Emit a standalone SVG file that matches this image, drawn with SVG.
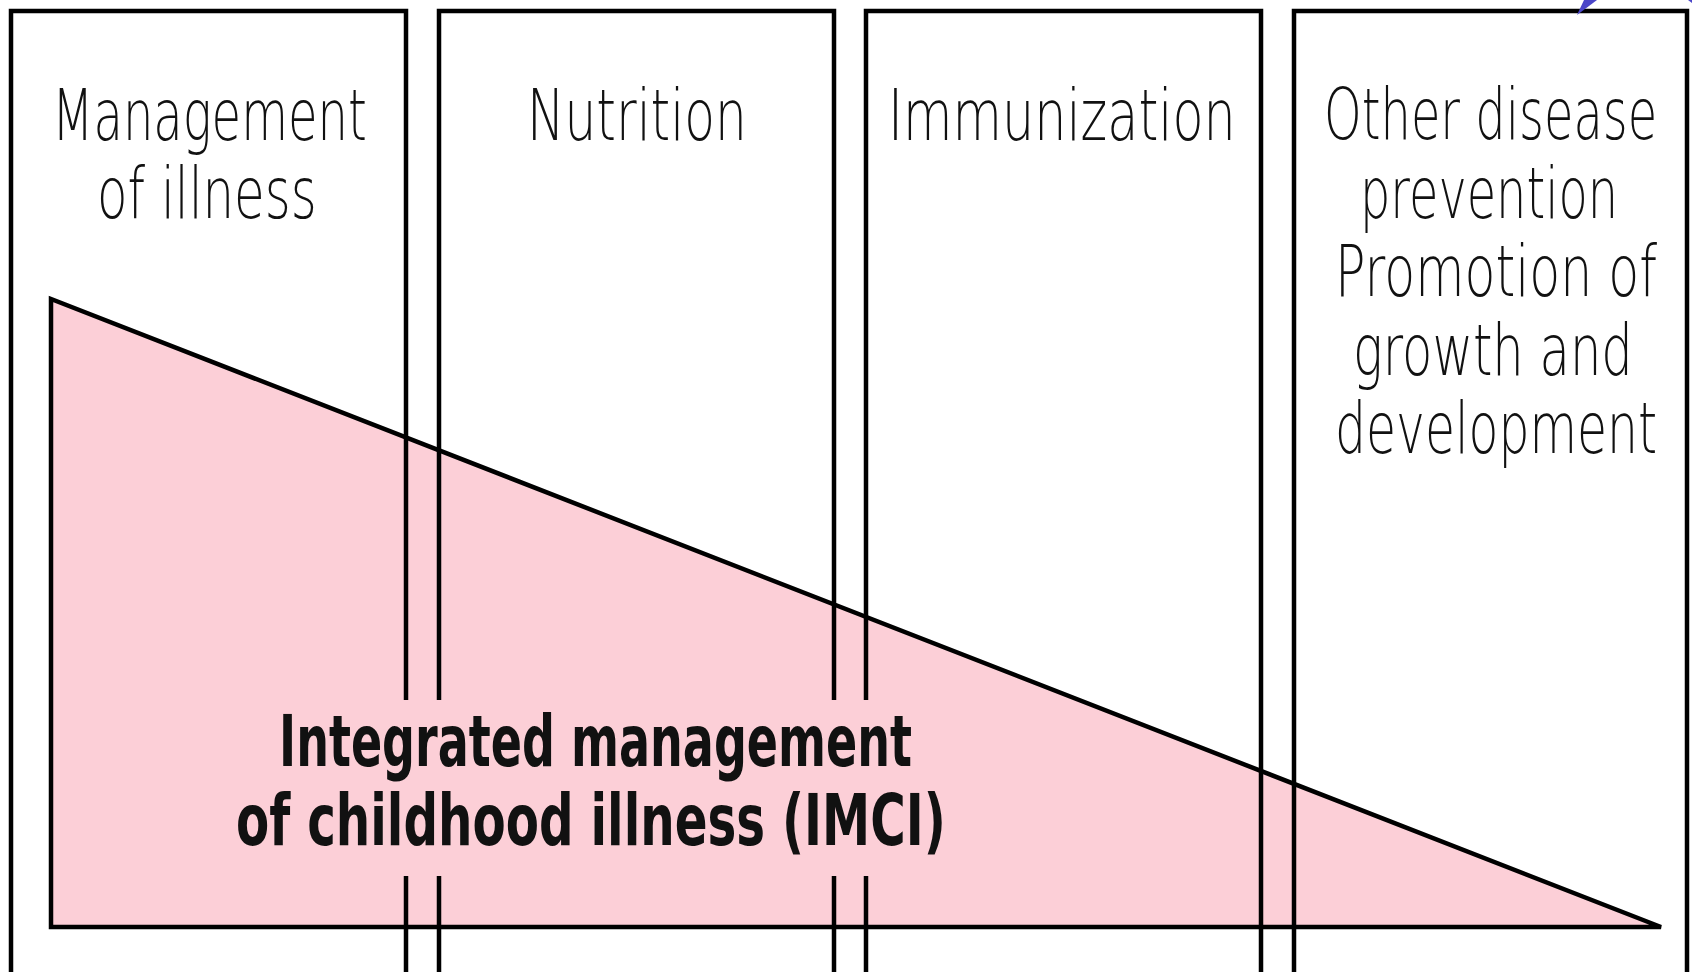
<svg xmlns="http://www.w3.org/2000/svg" width="1692" height="972" viewBox="0 0 1692 972">
<style>
.box{fill:none;stroke:#000;stroke-width:4.5}
.tri{fill:#fccfd7;stroke:#000;stroke-width:4.5;stroke-linejoin:miter}
.t{font-family:"DejaVu Sans","Liberation Sans",sans-serif;font-size:72px;font-weight:200;fill:#111}
.b{font-family:"DejaVu Sans","Liberation Sans",sans-serif;font-size:72px;font-weight:bold;fill:#111}
</style>
<rect x="0" y="0" width="1692" height="972" fill="#fff"/>
<g id="imci-triangle">
<polygon class="tri" points="51,299 51,927 1661,927"/>
</g>
<g id="connectors"></g>
<g id="management-of-illness">
<rect class="box" x="11" y="11" width="395" height="1000"/>
<text class="t" transform="translate(52,140) scale(0.66,1)" textLength="477" lengthAdjust="spacingAndGlyphs">Management</text>
<text class="t" transform="translate(97,218) scale(0.66,1)" textLength="333" lengthAdjust="spacingAndGlyphs">of illness</text>
</g>
<g id="nutrition">
<rect class="box" x="439" y="11" width="395" height="1000"/>
<text class="t" transform="translate(527,140) scale(0.66,1)" textLength="333" lengthAdjust="spacingAndGlyphs">Nutrition</text>
</g>
<g id="immunization">
<rect class="box" x="866" y="11" width="395" height="1000"/>
<text class="t" transform="translate(888,140) scale(0.66,1)" textLength="527" lengthAdjust="spacingAndGlyphs">Immunization</text>
</g>
<g id="other-prevention">
<rect class="box" x="1294" y="11" width="393" height="1000"/>
<text class="t" transform="translate(1324,139) scale(0.66,1)" textLength="505" lengthAdjust="spacingAndGlyphs">Other disease</text>
<text class="t" transform="translate(1360,218) scale(0.66,1)" textLength="391" lengthAdjust="spacingAndGlyphs">prevention</text>
<text class="t" transform="translate(1335,296) scale(0.66,1)" textLength="488" lengthAdjust="spacingAndGlyphs">Promotion of</text>
<text class="t" transform="translate(1353,375) scale(0.66,1)" textLength="424" lengthAdjust="spacingAndGlyphs">growth and</text>
<text class="t" transform="translate(1335,453) scale(0.66,1)" textLength="488" lengthAdjust="spacingAndGlyphs">development</text>
</g>
<g id="imci-label">
<rect x="236" y="700" width="712" height="176" fill="#fccfd7"/>
<text class="b" transform="translate(279,766) scale(0.62,1)" textLength="1021" lengthAdjust="spacingAndGlyphs">Integrated management</text>
<text class="b" transform="translate(236,845) scale(0.62,1)" textLength="1145" lengthAdjust="spacingAndGlyphs">of childhood illness (IMCI)</text>
</g>
<g id="blue-fragment">
<polygon points="1577,15 1584,0 1597,0" fill="#4a45c8"/>
<polygon points="1688,0 1692,0 1692,3" fill="#4a45c8"/>
</g>
</svg>
